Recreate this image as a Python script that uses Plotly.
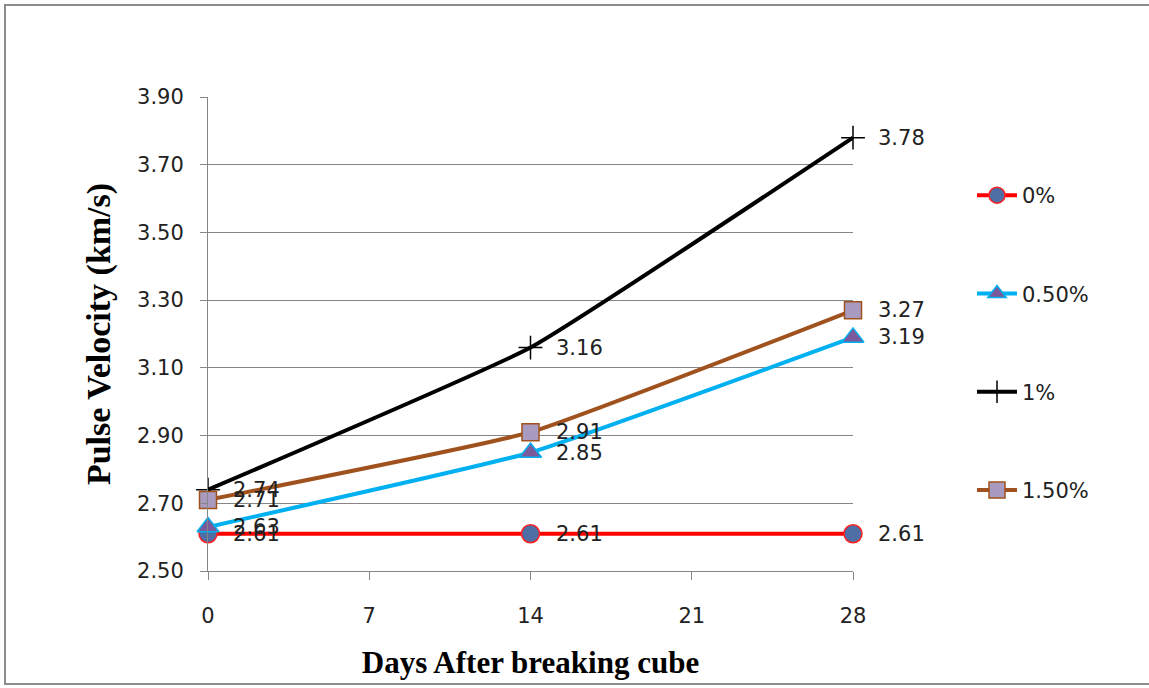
import plotly.graph_objects as go

days = [0, 14, 28]
series_names = ["0%", "0.50%", "1%", "1.50%"]
v_0 = [2.61, 2.61, 2.61]
v_05 = [2.63, 2.85, 3.19]
v_1 = [2.74, 3.16, 3.78]
v_15 = [2.71, 2.91, 3.27]
x_ticks = [0, 7, 14, 21, 28]
y_ticks = [2.50, 2.70, 2.90, 3.10, 3.30, 3.50, 3.70, 3.90]

W, H = 1149, 688
L, R, T, B = 208, 853, 97, 571

styles = [
    dict(line=dict(color="#FF0000", width=4),
         marker=dict(symbol="circle", size=18, color="#4F6EA6", line=dict(color="#FF2020", width=1.5))),
    dict(line=dict(color="#00B0F0", width=4),
         marker=dict(symbol="triangle-up", size=19, color="#7A5A9A", line=dict(color="#00B0F0", width=1.5))),
    dict(line=dict(color="#000000", width=4),
         marker=dict(symbol="cross-thin", size=17, color="#000000", line=dict(color="#000000", width=1.5))),
    dict(line=dict(color="#A0521E", width=4),
         marker=dict(symbol="square", size=17, color="#A99BBF", line=dict(color="#A0521E", width=1.5))),
]

lab_font = dict(family="DejaVu Sans", size=21, color="#222222")

fig = go.Figure()
for i, (name, vals) in enumerate(zip(series_names, [v_0, v_05, v_1, v_15])):
    st = styles[i]
    fig.add_trace(go.Scatter(
        x=days, y=vals, name=name, mode="lines+markers",
        line=dict(st["line"], shape="spline", smoothing=0.35),
        marker=st["marker"], legendgroup=name, cliponaxis=False,
    ))
    for d, v in zip(days, vals):
        fig.add_annotation(x=d, y=v, text=f"{v:.2f}", showarrow=False,
                           xanchor="left", yanchor="middle", xshift=23,
                           font=lab_font)

pw, ph = R - L, B - T
def px(xp): return (xp - L) / pw
def py(yp): return (B - yp) / ph

fig.add_shape(type="rect", xref="paper", yref="paper",
              x0=px(5), x1=px(1160), y0=py(684), y1=py(5),
              line=dict(color="#8C8C8C", width=2), fillcolor="rgba(0,0,0,0)", layer="below")

fig.update_layout(
    width=W, height=H,
    margin=dict(l=L, r=W - R, t=T, b=H - B),
    paper_bgcolor="white", plot_bgcolor="white",
    showlegend=True,
    legend=dict(x=px(972), y=py(175), xanchor="left", yanchor="top",
                font=lab_font,
                tracegroupgap=68, bgcolor="rgba(0,0,0,0)", itemwidth=40),
    xaxis=dict(range=[0, 28], tickvals=x_ticks, ticktext=[str(t) for t in x_ticks],
               showgrid=False, zeroline=False, showline=True, linecolor="#868686", linewidth=1,
               ticks="outside", ticklen=8, tickcolor="#868686", tickfont=lab_font,
               ticklabelstandoff=18,
               title=dict(text="<b>Days After breaking cube</b>", standoff=24,
                          font=dict(family="Liberation Serif", size=31, color="#000000"))),
    yaxis=dict(range=[2.5, 3.9], tickvals=y_ticks, ticktext=[f"{t:.2f}" for t in y_ticks],
               showgrid=True, gridcolor="#868686", gridwidth=1, zeroline=False,
               showline=True, linecolor="#868686", linewidth=1,
               ticks="outside", ticklen=7, tickcolor="#868686", tickfont=lab_font,
               ticklabelstandoff=12,
               title=dict(text="<b>Pulse Velocity (km/s)</b>", standoff=16,
                          font=dict(family="Liberation Serif", size=34, color="#000000"))),
)

fig.write_html("out.html")
